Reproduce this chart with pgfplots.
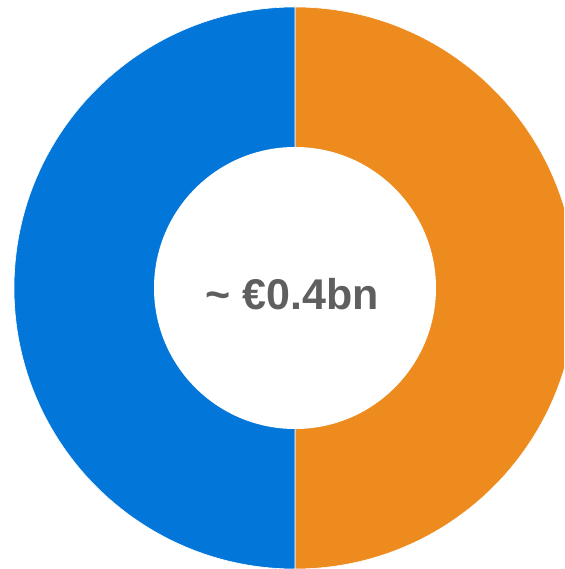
\documentclass[border=0pt]{standalone}
\usepackage{pgfplots}
\pgfplotsset{compat=1.18}
\usepackage{fontspec}
\setmainfont{Liberation Sans}
\definecolor{cblue}{HTML}{0376D9}
\definecolor{corange}{HTML}{EE8B1E}
\definecolor{ctext}{HTML}{5F5F5F}
% shares (percent): orange, blue
\def\valA{50}
\def\valB{50}
\begin{document}
\begin{tikzpicture}
\begin{axis}[
  scale only axis, width=564pt, height=569pt,
  xmin=-295, xmax=269, ymin=-281, ymax=288,
  hide axis, clip=true,
]
\pgfmathsetmacro{\angA}{90-\valA/(\valA+\valB)*360}
\pgfmathsetmacro{\angB}{\angA-\valB/(\valA+\valB)*360}
\addplot[draw=none] coordinates {(0,0)};
\begin{scope}
\clip (axis cs:-295,-281) rectangle (axis cs:269,288);
\fill[corange, draw=white, line width=0.6pt] (axis cs:0,0) -- (axis cs:0,281) arc[start angle=90, end angle=\angA, radius=281] -- cycle;
\fill[cblue, draw=white, line width=0.6pt] (axis cs:0,0) -- (axis cs:0,-281) arc[start angle=\angA, end angle=\angB, radius=281] -- cycle;
\fill[white] (axis cs:0,0) circle[radius=141];
\end{scope}
\node[text=ctext, font=\fontsize{43}{50}\selectfont\bfseries] at (axis cs:-3,-6) {\char`\~\ €0.4bn};
\end{axis}
\pgfresetboundingbox
\path (current axis.south west) rectangle (current axis.north east);
\end{tikzpicture}
\end{document}
